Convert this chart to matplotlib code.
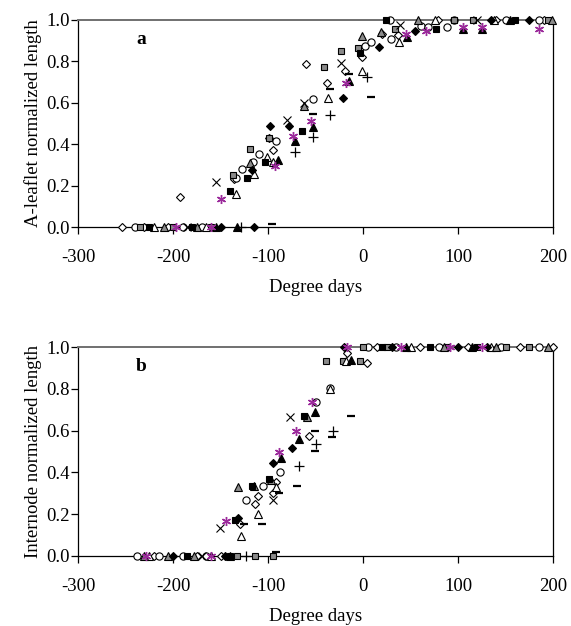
import matplotlib
matplotlib.use("Agg")
import matplotlib.pyplot as plt

# ---------------- Panel a data (degree days, normalized length) ----------------
a_open_diamond_x = [-254, -230, -205, -193, -135.5, -98.6, -95, -60.3, -37.9, -19, -1.4, 19.6, 36.5, 79, 140, 190]
a_open_diamond_y = [0, 0, 0, 0.145, 0.232, 0.43, 0.373, 0.789, 0.696, 0.755, 0.82, 0.93, 0.928, 1, 1, 1]
a_fill_diamond_x = [-150, -115, -116.5, -97.9, -78.3, -21.4, 16.8, 54.7, 135, 175]
a_fill_diamond_y = [0, 0, 0.275, 0.488, 0.488, 0.622, 0.871, 0.947, 1, 1]
a_circle_x = [-240, -190, -170, -133.4, -127.7, -115.4, -109.8, -91.2, -53, 2.1, 8.4, 29.5, 61, 68, 88.4, 28, 96, 150, 185]
a_circle_y = [0, 0, 0, 0.237, 0.28, 0.313, 0.351, 0.415, 0.62, 0.876, 0.895, 0.908, 0.971, 0.965, 0.968, 1, 1, 1, 1]
a_fill_square_x = [-225, -180, -140, -121.8, -103.5, -64.6, -3.2, 76.8, 24, 160]
a_fill_square_y = [0, 0, 0.175, 0.238, 0.313, 0.465, 0.842, 0.957, 1, 1]
a_gray_square_x = [-235, -200, -160, -137, -118.6, -98.6, -41.4, -23.5, -4.9, 33.7, 96, 116, 195]
a_gray_square_y = [0, 0, 0, 0.253, 0.375, 0.43, 0.773, 0.852, 0.866, 0.957, 1, 1, 1]
a_open_tri_x = [-220, -165, -134, -115, -101, -94.4, -37.2, -1.4, 37.5, 76, 138]
a_open_tri_y = [0, 0, 0.16, 0.255, 0.34, 0.313, 0.625, 0.754, 0.892, 1, 1]
a_fill_tri_x = [-155, -133, -89.8, -71.6, -53, -15, 46, 104.9, 125, 155]
a_fill_tri_y = [0, 0, 0.322, 0.414, 0.485, 0.707, 0.916, 0.957, 0.957, 1]
a_gray_tri_x = [-210, -175, -119, -62, -1.4, 18.6, 58, 199]
a_gray_tri_y = [0, 0, 0.31, 0.585, 0.924, 0.94, 1, 1]
a_cross_x = [-185, -155, -80, -62, -23.5, 38.9, 120]
a_cross_y = [0, 0.216, 0.517, 0.6, 0.794, 0.976, 1]
a_plus_x = [-128, -71.2, -52.6, -34.4, 4.2]
a_plus_y = [0, 0.364, 0.436, 0.54, 0.726]
a_dash_x = [-96, -53, -34.7, -14.4, 8.4]
a_dash_y = [0.015, 0.546, 0.668, 0.739, 0.628]
a_star_x = [-197, -160, -150, -92.3, -74, -55, -18, 45.3, 66, 105, 125, 185.6]
a_star_y = [0, 0, 0.134, 0.295, 0.44, 0.51, 0.697, 0.93, 0.947, 0.965, 0.965, 0.958]

# ---------------- Panel b data ----------------
b_open_diamond_x = [-220, -175, -150, -129.5, -113.4, -110.5, -95, -91.3, -56.8, -17.2, 3.9, 15, 60, 110, 165, 200]
b_open_diamond_y = [0, 0, 0, 0.153, 0.249, 0.289, 0.3, 0.354, 0.576, 0.97, 0.925, 1, 1, 1, 1, 1]
b_fill_diamond_x = [-200, -145, -132, -94.4, -74.7, -20, 30, 100, 130]
b_fill_diamond_y = [0, 0, 0.18, 0.445, 0.518, 1, 1, 1, 1]
b_circle_x = [-238, -215, -190, -165, -123, -105.6, -87, -49.8, -34.7, 5, 35, 80, 145, 185]
b_circle_y = [0, 0, 0, 0, 0.266, 0.335, 0.402, 0.737, 0.805, 1, 1, 1, 1, 1]
b_fill_square_x = [-185, -140, -134.7, -117, -99, -61.8, 20, 70, 120]
b_fill_square_y = [0, 0, 0.172, 0.335, 0.37, 0.67, 1, 1, 1]
b_gray_square_x = [-133, -113.6, -95, -38.6, -20.7, -3.2, 0, 25, 88, 150, 175]
b_gray_square_y = [0, 0, 0, 0.933, 0.933, 0.933, 1, 1, 1, 1, 1]
b_open_tri_x = [-225, -160, -128.8, -110.5, -91.6, -34.7, -18, 50, 135]
b_open_tri_y = [0, 0, 0.097, 0.201, 0.33, 0.8, 0.933, 1, 1]
b_fill_tri_x = [-140, -86, -67.7, -50.2, -12.6, 45, 115]
b_fill_tri_y = [0, 0.47, 0.561, 0.687, 0.938, 1, 1]
b_gray_tri_x = [-230, -205, -178, -132, -115, -96.5, -58.6, 85, 140, 195]
b_gray_tri_y = [0, 0, 0, 0.332, 0.335, 0.362, 0.664, 1, 1, 1]
b_cross_x = [-170, -150.5, -94.7, -76.5]
b_cross_y = [0, 0.132, 0.266, 0.667]
b_plus_x = [-123, -67, -49.5, -31.3]
b_plus_y = [0, 0.432, 0.536, 0.6]
b_dash_x = [-92, -125, -106.3, -88, -69.5, -50.5, -50.2, -32.3, -12.6]
b_dash_y = [0.02, 0.153, 0.152, 0.303, 0.336, 0.6, 0.504, 0.571, 0.668]
b_star_x = [-228, -160, -144, -88, -70.2, -53.4, -17.2, 40, 92, 125]
b_star_y = [0, 0, 0.167, 0.499, 0.598, 0.737, 1.0, 1, 1, 1]

x_ticks = [-300, -200, -100, 0, 100, 200]
x_ticklabels = ["-300", "-200", "-100", "0", "100", "200"]
y_ticks = [0.0, 0.2, 0.4, 0.6, 0.8, 1.0]
y_ticklabels = ["0.0", "0.2", "0.4", "0.6", "0.8", "1.0"]

GRAY = "#8a8a8a"
PURPLE = "#9b2a9b"

styles = {
    "open_diamond": dict(marker="D", ms=4.2, mfc="white", mec="black", mew=0.8),
    "fill_diamond": dict(marker="D", ms=4.2, mfc="black", mec="black", mew=0.8),
    "circle": dict(marker="o", ms=5.2, mfc="white", mec="black", mew=0.8),
    "fill_square": dict(marker="s", ms=5.0, mfc="black", mec="black", mew=0.8),
    "gray_square": dict(marker="s", ms=5.0, mfc=GRAY, mec="black", mew=0.8),
    "open_tri": dict(marker="^", ms=5.6, mfc="white", mec="black", mew=0.8),
    "fill_tri": dict(marker="^", ms=5.6, mfc="black", mec="black", mew=0.8),
    "gray_tri": dict(marker="^", ms=5.6, mfc=GRAY, mec="black", mew=0.8),
    "cross": dict(marker="x", ms=6.0, mfc="none", mec="black", mew=0.8),
    "plus": dict(marker="+", ms=6.5, mfc="none", mec="black", mew=0.9),
    "dash": dict(marker="_", ms=6.0, mfc="none", mec="black", mew=1.6),
    "star": dict(marker=(6, 2, 0), ms=6.5, mfc="none", mec=PURPLE, mew=1.0),
}

panel_a = [
    ("open_diamond", a_open_diamond_x, a_open_diamond_y),
    ("circle", a_circle_x, a_circle_y),
    ("gray_square", a_gray_square_x, a_gray_square_y),
    ("open_tri", a_open_tri_x, a_open_tri_y),
    ("gray_tri", a_gray_tri_x, a_gray_tri_y),
    ("fill_square", a_fill_square_x, a_fill_square_y),
    ("fill_diamond", a_fill_diamond_x, a_fill_diamond_y),
    ("fill_tri", a_fill_tri_x, a_fill_tri_y),
    ("cross", a_cross_x, a_cross_y),
    ("plus", a_plus_x, a_plus_y),
    ("dash", a_dash_x, a_dash_y),
    ("star", a_star_x, a_star_y),
]
panel_b = [
    ("open_diamond", b_open_diamond_x, b_open_diamond_y),
    ("circle", b_circle_x, b_circle_y),
    ("gray_square", b_gray_square_x, b_gray_square_y),
    ("open_tri", b_open_tri_x, b_open_tri_y),
    ("gray_tri", b_gray_tri_x, b_gray_tri_y),
    ("fill_square", b_fill_square_x, b_fill_square_y),
    ("fill_diamond", b_fill_diamond_x, b_fill_diamond_y),
    ("fill_tri", b_fill_tri_x, b_fill_tri_y),
    ("cross", b_cross_x, b_cross_y),
    ("plus", b_plus_x, b_plus_y),
    ("dash", b_dash_x, b_dash_y),
    ("star", b_star_x, b_star_y),
]

plt.rcParams["font.family"] = ["Liberation Serif", "DejaVu Serif"]

fig = plt.figure(figsize=(5.71, 6.26), dpi=100)
ax_a = fig.add_axes([78 / 571, 1 - 227 / 626, 475 / 571, 207 / 626])
ax_b = fig.add_axes([78 / 571, 1 - 556 / 626, 475 / 571, 209 / 626])

for ax, series, label, ylabel in [
    (ax_a, panel_a, "a", "A-leaflet normalized length"),
    (ax_b, panel_b, "b", "Internode normalized length"),
]:
    for key, xs, ys in series:
        ax.plot(xs, ys, linestyle="none", clip_on=False, zorder=3, **styles[key])
    ax.set_xlim(-300, 200)
    ax.set_ylim(0, 1.0)
    ax.set_xticks(x_ticks)
    ax.set_xticklabels(x_ticklabels)
    ax.set_yticks(y_ticks)
    ax.set_yticklabels(y_ticklabels)
    ax.tick_params(axis="x", direction="out", length=5, width=0.9, pad=11, labelsize=13.5)
    ax.tick_params(axis="y", direction="out", length=5, width=0.9, pad=1, labelsize=13.5)
    for s in ["left", "bottom", "right"]:
        ax.spines[s].set_color("black")
        ax.spines[s].set_linewidth(0.9)
    ax.spines["top"].set_color("#707070")
    ax.spines["top"].set_linewidth(1.4)
    ax.set_xlabel("Degree days", fontsize=13.5, labelpad=9)
    ax.set_ylabel(ylabel, fontsize=13.5, labelpad=3)
    ax.text(-233, 0.905, label, fontsize=14, fontweight="bold", ha="center", va="center")

fig.savefig("out.png", dpi=100)
